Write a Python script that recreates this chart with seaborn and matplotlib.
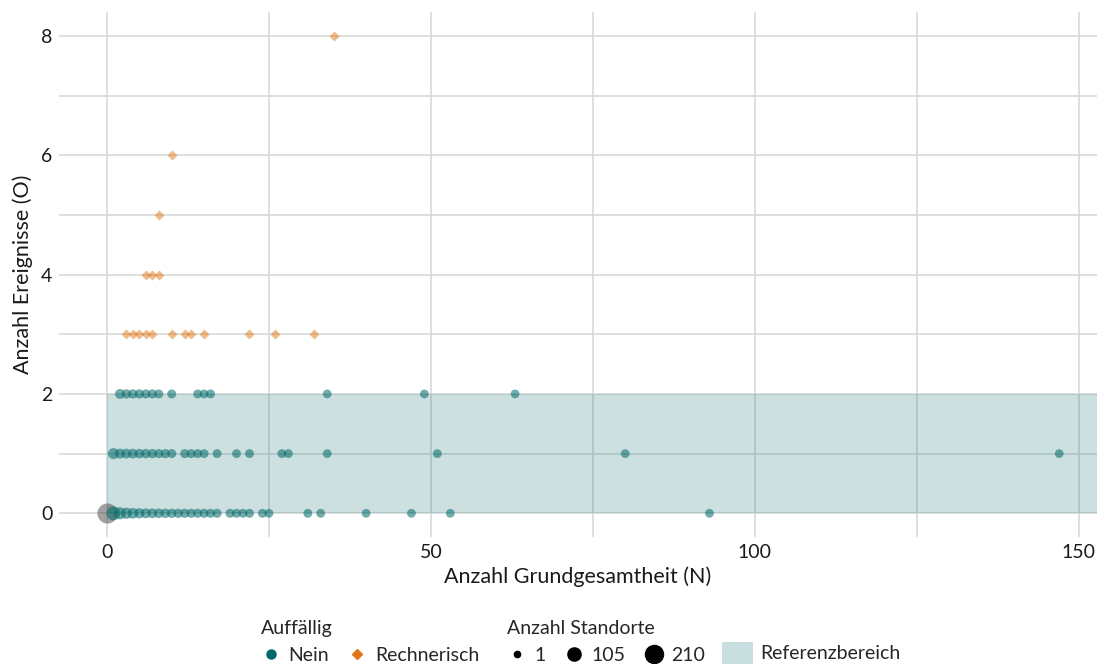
import numpy as np
import pandas as pd
import matplotlib
matplotlib.use("Agg")
import matplotlib.pyplot as plt
from matplotlib.lines import Line2D
from matplotlib.patches import Patch
import seaborn as sns

# Auffällig = Nein, O = 0
nein_o0_n = [1, 2, 3, 4, 5, 6, 7, 8, 9, 10, 11, 12, 13, 14, 15, 16, 17,
             19, 20, 21, 22, 24, 25, 31, 33, 40, 47, 53, 93]
nein_o0_sites = [78, 46, 32, 25, 19, 15, 12, 10, 9, 8, 7, 6, 6, 5, 5, 4, 4,
                 3, 3, 3, 3, 2, 2, 2, 2, 1, 1, 1, 1]
# Auffällig = Nein, O = 1
nein_o1_n = [1, 2, 3, 4, 5, 6, 7, 8, 9, 10, 12, 13, 14, 15, 17, 20, 22, 27, 28,
             34, 51, 80, 147]
nein_o1_sites = [30, 16, 14, 12, 10, 8, 7, 6, 6, 5, 4, 4, 3, 3, 3, 2, 2, 2, 2,
                 1, 1, 1, 1]
# Auffällig = Nein, O = 2
nein_o2_n = [2, 3, 4, 5, 6, 7, 8, 10, 14, 15, 16, 34, 49, 63]
nein_o2_sites = [14, 8, 7, 6, 5, 5, 4, 3, 2, 2, 2, 1, 1, 1]
# Auffällig = Rechnerisch
rech_n = [3, 4, 5, 6, 7, 10, 12, 13, 15, 22, 26, 32, 6, 7, 8, 8, 10, 35]
rech_o = [3, 3, 3, 3, 3, 3, 3, 3, 3, 3, 3, 3, 4, 4, 4, 5, 6, 8]
# N = 0 (nicht bewertet)
null_n = [0]
null_o = [0]
null_sites = [210]

ref_lower, ref_upper = 0, 2
size_breaks = [1, 105, 210]

teal = "#006868"
orange = "#e07818"

nein = pd.DataFrame({
    "N": nein_o0_n + nein_o1_n + nein_o2_n,
    "O": [0] * len(nein_o0_n) + [1] * len(nein_o1_n) + [2] * len(nein_o2_n),
    "Standorte": nein_o0_sites + nein_o1_sites + nein_o2_sites,
})
rech = pd.DataFrame({"N": rech_n, "O": rech_o, "Standorte": [1] * len(rech_n)})
null = pd.DataFrame({"N": null_n, "O": null_o, "Standorte": null_sites})

sns.set_theme(style="white")
plt.rcParams["font.family"] = ["Lato", "DejaVu Sans"]

fig = plt.figure(figsize=(10.99, 6.64), dpi=100)
ax = fig.add_axes([0.054, 0.191, 0.944, 0.791])

sizes = (40, 210)
x_max = 152.8

ax.fill_between([0, x_max], ref_lower, ref_upper, color=teal, alpha=0.2,
                linewidth=0, zorder=0.8)
sns.scatterplot(data=null, x="N", y="O", size="Standorte", sizes=sizes,
                size_norm=(1, 210), color="#555555", alpha=0.55, linewidth=0,
                legend=False, ax=ax, zorder=2)
sns.scatterplot(data=nein, x="N", y="O", size="Standorte", sizes=sizes,
                size_norm=(1, 210), color=teal, alpha=0.55, linewidth=0,
                legend=False, ax=ax, zorder=2)
sns.scatterplot(data=rech, x="N", y="O", color=orange, marker="D", s=26,
                alpha=0.5, linewidth=0, legend=False, ax=ax, zorder=2)

ax.set_xlim(-7.35, x_max)
ax.set_ylim(-0.4, 8.4)
ax.set_xticks([0, 50, 100, 150])
ax.set_xticks([25, 75, 125], minor=True)
ax.set_yticks([0, 2, 4, 6, 8])
ax.set_yticks([1, 3, 5, 7], minor=True)
ax.grid(True, which="both", color="#d6d6d6", linewidth=1.1)
ax.set_axisbelow(True)
for s in ax.spines.values():
    s.set_visible(False)
ax.tick_params(axis="both", which="both", length=0, labelsize=14,
               colors="#1a1a1a", pad=5)
ax.set_xlabel("Anzahl Grundgesamtheit (N)", fontsize=15.5, color="#1a1a1a",
              labelpad=4)
ax.set_ylabel("Anzahl Ereignisse (O)", fontsize=15.5, color="#1a1a1a",
              labelpad=6)

# legends
h1 = [Line2D([], [], marker="o", ls="", color=teal, ms=6.5, label="Nein"),
      Line2D([], [], marker="D", ls="", color=orange, ms=5, label="Rechnerisch")]
legend_ms = [4.5, 9.5, 13]
h2 = [Line2D([], [], marker="o", ls="", color="black", ms=m, label=str(v))
      for v, m in zip(size_breaks, legend_ms)]
h3 = [Patch(facecolor="#c9dedf", edgecolor="none", label="Referenzbereich")]

common = dict(frameon=False, fontsize=14, title_fontsize=14, handletextpad=0.35,
              columnspacing=0.9, loc="lower left", borderaxespad=0,
              borderpad=0.0, alignment="left")
leg1 = fig.legend(handles=h1, title="Auffällig", ncol=2, handlelength=1.1,
                  bbox_to_anchor=(0.237, 0.0), **common)
leg2 = fig.legend(handles=h2, title="Anzahl Standorte", ncol=3, handlelength=1.1,
                  bbox_to_anchor=(0.461, 0.0), **common)
leg3 = fig.legend(handles=h3, title=" ", ncol=1, handleheight=1.4,
                  handlelength=1.6, bbox_to_anchor=(0.657, 0.0), **common)

fig.savefig("out.png", dpi=100)
